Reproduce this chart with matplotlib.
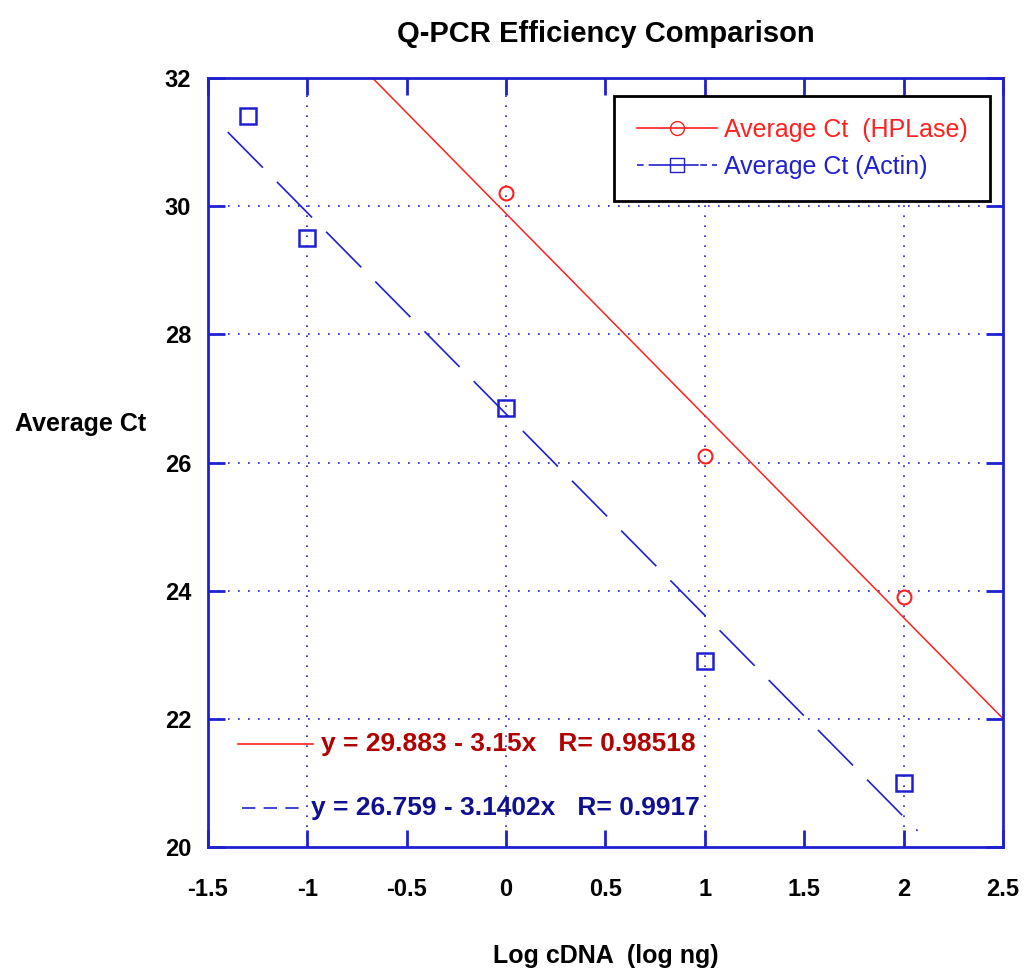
import matplotlib.pyplot as plt
import numpy as np

# measured points
hplase_x = [0, 1, 2]
hplase_y = [30.2, 26.1, 23.9]
actin_x = [-1.3, -1, 0, 1, 2]
actin_y = [31.4, 29.5, 26.85, 22.9, 21.0]

# fit coefficients (as printed on the chart)
hp_a, hp_b = 29.883, -3.15
ac_a, ac_b = 26.759, -3.1402
hp_range = [-0.67, 2.5]
ac_range = [-1.4, 2.07]

plt.rcParams['font.family'] = ['Liberation Sans Narrow', 'Liberation Sans', 'DejaVu Sans']

RED = '#ff2020'
BLUE = '#2020d0'

fig = plt.figure(figsize=(10.24, 9.74), dpi=100)
ax = fig.add_axes([0.203, 0.130, 0.7765, 0.790])

# fit lines
xf = np.array(hp_range)
ax.plot(xf, hp_a + hp_b * xf, color=RED, lw=1.1)
xf2 = np.array(ac_range)
ax.plot(xf2, ac_a + ac_b * xf2, color=BLUE, lw=1.2, dashes=(30, 12))

# data points
ax.plot(hplase_x, hplase_y, 'o', mfc='none', mec=RED, ms=10, mew=1.5)
ax.plot(actin_x, actin_y, 's', mfc='none', mec=BLUE, ms=11, mew=1.8)

ax.set_xlim(-1.5, 2.5)
ax.set_ylim(20, 32)
ax.set_xticks(np.arange(-1.5, 2.51, 0.5))
ax.set_xticklabels(['-1.5', '-1', '-0.5', '0', '0.5', '1', '1.5', '2', '2.5'])
ax.set_yticks(np.arange(20, 32.1, 2))

# dotted grid at integers / even y
for gx in [-1, 0, 1, 2]:
    ax.axvline(gx, color=BLUE, lw=1.2, ls=(0, (1, 5)), zorder=0)
for gy in [22, 24, 26, 28, 30]:
    ax.axhline(gy, color=BLUE, lw=1.2, ls=(0, (1, 5)), zorder=0)

for s in ax.spines.values():
    s.set_color(BLUE)
    s.set_linewidth(2)
ax.tick_params(direction='in', length=12, width=2, color=BLUE,
               top=True, right=True, labelsize=17)
ax.tick_params(axis='x', pad=22)
ax.tick_params(axis='y', pad=12)
for lab in ax.get_xticklabels() + ax.get_yticklabels():
    lab.set_fontweight('bold')

ax.set_title('Q-PCR Efficiency Comparison', fontsize=21, fontweight='bold', pad=26)
ax.set_ylabel('Average Ct', fontsize=18, fontweight='bold', rotation=0)
ax.yaxis.set_label_coords(-0.16, 0.535)
ax.set_xlabel('Log cDNA  (log ng)', fontsize=18, fontweight='bold')
ax.xaxis.set_label_coords(0.5, -0.125)

# legend
h1, = ax.plot([], [], '-o', color=RED, mfc='none', ms=10, lw=1.2)
h2, = ax.plot([], [], '-s', color=BLUE, mfc='none', ms=10, lw=1.2, dashes=(4, 3, 30, 1))
leg = ax.legend([h1, h2], ['Average Ct  (HPLase)', 'Average Ct (Actin)'],
                loc='upper right', bbox_to_anchor=(0.984, 0.977), borderaxespad=0,
                fontsize=18, fancybox=False, shadow=False, edgecolor='black',
                framealpha=1, handlelength=3.2, handletextpad=0.3,
                borderpad=0.9, labelspacing=0.5)
leg.get_frame().set_linewidth(2)
for t, c in zip(leg.get_texts(), [RED, BLUE]):
    t.set_color(c)

# equation annotations
ax.plot([-1.35, -0.97], [21.62, 21.62], color=RED, lw=1.2)
ax.text(-0.93, 21.62, 'y = 29.883 - 3.15x   R= 0.98518', color='#b00000',
        fontsize=19, fontweight='bold', va='center')
ax.plot([-1.33, -1.0], [20.61, 20.61], color=BLUE, lw=1.2, dashes=(8, 5))
ax.text(-0.98, 20.61, 'y = 26.759 - 3.1402x   R= 0.9917', color='#101090',
        fontsize=19, fontweight='bold', va='center')

fig.savefig('out.png', dpi=100)
